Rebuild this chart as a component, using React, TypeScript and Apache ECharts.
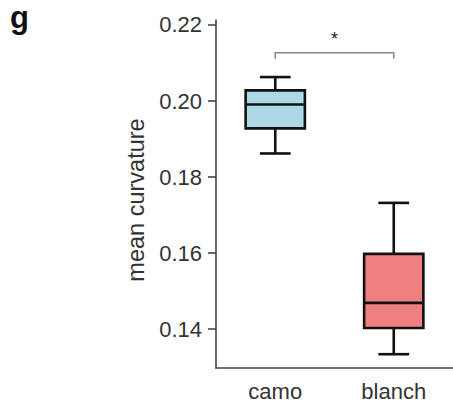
import React, { useEffect, useRef } from "react";
import * as echarts from "echarts";

const categories = ["camo", "blanch"];
// [low whisker, Q1, median, Q3, high whisker]
const boxValues = [
  [0.1862, 0.1928, 0.1991, 0.2028, 0.2063],
  [0.1334, 0.1403, 0.1469, 0.1598, 0.1732],
];
const boxColors = ["#ADD8E6", "#F08080"];
const yTicks = [0.14, 0.16, 0.18, 0.2, 0.22];
const yMin = 0.12977;
const yMax = 0.22131;
// significance bracket: [from category index, to category index, bar y, end y, label y]
const bracket = [0, 1, 0.2127, 0.2111, 0.2163];
const bracketLabel = "*";
const panelLabel = "g";

const FONT = "'Liberation Sans', Arial, Helvetica, sans-serif";
const TEXT = "#333";

export default function App() {
  const ref = useRef<HTMLDivElement>(null);
  useEffect(() => {
    if (!ref.current) return;
    const chart = echarts.init(ref.current, null, { renderer: "svg" });
    const boxData = boxValues.map((v, i) => [i, ...v]);
    chart.setOption({
      animation: false,
      backgroundColor: "#fff",
      graphic: [
        {
          type: "text",
          left: 10,
          top: 2,
          style: { text: panelLabel, font: `bold 31px ${FONT}`, fill: "#111" },
        },
      ],
      grid: { left: 216, right: -1, top: 20, bottom: 33, containLabel: false },
      xAxis: {
        type: "category",
        data: categories,
        boundaryGap: true,
        axisLine: { lineStyle: { color: "#444", width: 1.6 } },
        axisTick: { alignWithLabel: true, length: 8, lineStyle: { color: "#444", width: 1.6 } },
        axisLabel: { fontFamily: FONT, fontSize: 22, color: TEXT, margin: 12 },
        splitLine: { show: false },
      },
      yAxis: {
        type: "value",
        min: yMin,
        max: yMax,
        name: "mean curvature",
        nameLocation: "middle",
        nameGap: 60,
        nameTextStyle: { fontFamily: FONT, fontSize: 23.5, color: TEXT, padding: [0, 12, 0, 0] },
        axisLine: { show: true, lineStyle: { color: "#444", width: 1.6 } },
        axisTick: { show: true, length: 8, customValues: yTicks, lineStyle: { color: "#444", width: 1.6 } },
        axisLabel: {
          fontFamily: FONT,
          fontSize: 22,
          color: TEXT,
          margin: 14,
          customValues: yTicks,
          formatter: (v: number) => v.toFixed(2),
        },
        splitLine: { show: false },
      },
      series: [
        {
          type: "custom",
          data: boxData,
          renderItem: (params: any, api: any) => {
            const x = api.value(0);
            const low = api.coord([x, api.value(1)]);
            const q1 = api.coord([x, api.value(2)]);
            const med = api.coord([x, api.value(3)]);
            const q3 = api.coord([x, api.value(4)]);
            const high = api.coord([x, api.value(5)]);
            const band = api.size([1, 0])[0];
            const bw = band * 0.5;
            const cw = bw * 0.52;
            const cx = low[0];
            const ls = { stroke: "#111", lineWidth: 2.6, fill: null };
            return {
              type: "group",
              children: [
                { type: "line", shape: { x1: cx, y1: high[1], x2: cx, y2: q3[1] }, style: ls },
                { type: "line", shape: { x1: cx, y1: low[1], x2: cx, y2: q1[1] }, style: ls },
                { type: "line", shape: { x1: cx - cw / 2, y1: high[1], x2: cx + cw / 2, y2: high[1] }, style: ls },
                { type: "line", shape: { x1: cx - cw / 2, y1: low[1], x2: cx + cw / 2, y2: low[1] }, style: ls },
                {
                  type: "rect",
                  shape: { x: cx - bw / 2, y: q3[1], width: bw, height: q1[1] - q3[1] },
                  style: { fill: boxColors[params.dataIndex], stroke: "#111", lineWidth: 2.6 },
                },
                { type: "line", shape: { x1: cx - bw / 2, y1: med[1], x2: cx + bw / 2, y2: med[1] }, style: ls },
              ],
            };
          },
        },
        {
          type: "custom",
          data: [bracket],
          renderItem: (params: any, api: any) => {
            const a = api.coord([api.value(0), api.value(2)]);
            const b = api.coord([api.value(1), api.value(2)]);
            const endY = api.coord([api.value(0), api.value(3)])[1];
            const labY = api.coord([api.value(0), api.value(4)])[1];
            return {
              type: "group",
              children: [
                {
                  type: "polyline",
                  shape: { points: [[a[0], endY], [a[0], a[1]], [b[0], b[1]], [b[0], endY]] },
                  style: { stroke: "#888", lineWidth: 1.5, fill: null },
                },
                {
                  type: "text",
                  x: (a[0] + b[0]) / 2,
                  y: labY,
                  style: {
                    text: bracketLabel,
                    font: `18px ${FONT}`,
                    fill: "#222",
                    align: "center",
                    verticalAlign: "middle",
                  },
                },
              ],
            };
          },
        },
      ],
    });
    return () => chart.dispose();
  }, []);
  return <div ref={ref} style={{ width: 453, height: 402, position: "fixed", left: 0, top: 0 }} />;
}
